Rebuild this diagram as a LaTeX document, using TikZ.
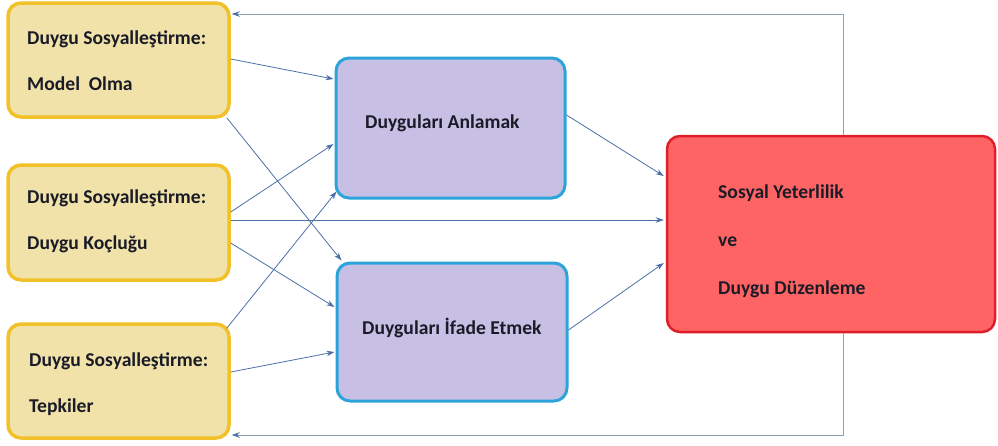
\documentclass[tikz,border=0pt]{standalone}
\usepackage{fontspec}
\setmainfont{Carlito}
\usetikzlibrary{calc,arrows.meta}
\definecolor{yfill}{HTML}{F0E2A8}
\definecolor{ydraw}{HTML}{F2C12A}
\definecolor{pfill}{HTML}{C7BFE4}
\definecolor{bdraw}{HTML}{2DA3DC}
\definecolor{rfill}{HTML}{FF6464}
\definecolor{rdraw}{HTML}{DE1F2A}
\definecolor{arr}{HTML}{4D6FA6}
\definecolor{fb}{HTML}{8E9FB8}
\definecolor{txt}{HTML}{1B1B28}
\tikzset{
  ybox/.style={draw=ydraw,fill=yfill,line width=3.5pt,rounded corners=13pt,inner sep=0pt},
  pbox/.style={draw=bdraw,fill=pfill,line width=3pt,rounded corners=13pt,inner sep=0pt},
  rbox/.style={draw=rdraw,fill=rfill,line width=2.5pt,rounded corners=13pt,inner sep=0pt},
  lbl/.style={anchor=west,inner sep=0pt,align=left,text=txt,font=\fontsize{19.6}{46}\selectfont\bfseries},
  rlbl/.style={lbl,font=\fontsize{19.6}{48}\selectfont\bfseries},
  conn/.style={draw=arr,line width=0.8pt,-{Stealth[length=8pt,width=5.5pt]}},
  fback/.style={draw=fb,line width=0.9pt,-{Stealth[length=8pt,width=5.5pt,color=arr]}}
}
\begin{document}
\begin{tikzpicture}[x=1pt,y=-1pt]
\useasboundingbox (0,0) rectangle (998,445);
% boxes
\node[ybox,minimum width=221pt,minimum height=114pt] (b1) at (118.5,60) {};
\node[ybox,minimum width=221pt,minimum height=115pt] (b2) at (118.5,222.5) {};
\node[ybox,minimum width=221pt,minimum height=114pt] (b3) at (118.5,381) {};
\node[pbox,minimum width=229pt,minimum height=140pt] (A) at (450.5,128) {};
\node[pbox,minimum width=230pt,minimum height=138pt] (B) at (452,332) {};
\node[rbox,minimum width=328pt,minimum height=196pt] (R) at (831,234) {};
% texts
\node[lbl] (t1) at (27,61) {Duygu Sosyalleştirme:\\Model\ \ Olma};
\node[lbl] (t2) at (27,221) {Duygu Sosyalleştirme:\\Duygu Koçluğu};
\node[lbl] (t3) at (29,384) {Duygu Sosyalleştirme:\\Tepkiler};
\node[lbl] (tA) at (365,123) {Duyguları Anlamak};
\node[lbl] (tB) at (362,328) {Duyguları İfade Etmek};
\node[rlbl] (tR) at (718,241) {Sosyal Yeterlilik\\ve\\Duygu Düzenleme};
% connectors
\draw[conn] ($(b1.east)+(0,-1)$) -- ($(A.west)+(-1,-49)$);
\draw[conn] ($(b1.south east)+(-4,-1)$) -- ($(B.north west)+(6,-1)$);
\draw[conn] ($(b2.east)+(0,-10.5)$) -- ($(A.west)+(-1,16)$);
\draw[conn] ($(b2.east)+(0,-2.5)$) -- ($(R.west)+(-2,-14)$);
\draw[conn] ($(b2.east)+(0,20.5)$) -- ($(B.west)+(-1,-25)$);
\draw[conn] ($(b3.north east)+(-4,6)$) -- ($(A.south west)+(2,-8)$);
\draw[conn] ($(b3.east)+(0,-9)$) -- ($(B.west)+(-1,20)$);
\draw[conn] ($(A.east)+(0,-13)$) -- ($(R.west)+(-2,-58)$);
\draw[conn] ($(B.east)+(0,-2)$) -- ($(R.west)+(-2,29)$);
% feedback
\draw[fback] ($(R.north)+(12,0)$) |- ($(b1.east)+(1,-46)$);
\draw[fback] ($(R.south)+(12,0)$) |- ($(b3.east)+(1,54)$);
\end{tikzpicture}
\end{document}
